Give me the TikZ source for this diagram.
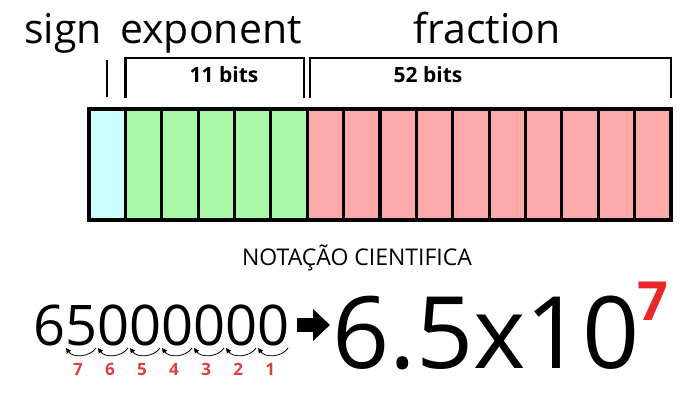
\documentclass[tikz,border=0pt]{standalone}
\usepackage{fontspec}
\setmainfont{Open Sans}
\usetikzlibrary{arrows.meta, positioning}
\definecolor{signcol}{RGB}{204,255,255}
\definecolor{expcol}{RGB}{168,248,168}
\definecolor{fraccol}{RGB}{255,170,170}
\definecolor{placered}{RGB}{222,62,62}
\definecolor{powred}{RGB}{232,40,40}

\begin{document}
\begin{tikzpicture}[x=1pt, y=1pt,
		cell/.style={draw=black, line width=3.2pt, minimum width=36.375pt, minimum height=111pt, inner sep=0pt, outer sep=0pt},
		bracket/.style={line width=2.4pt, line join=miter},
		field/.style={anchor=base, font=\fontsize{41}{41}\selectfont},
		bits/.style={anchor=base, font=\bfseries\fontsize{21}{21}\selectfont},
		digit/.style={inner sep=0pt, outer sep=0pt, anchor=base west, font=\fontsize{56}{56}\selectfont},
		place/.style={anchor=base, text=placered, font=\bfseries\fontsize{17}{17}\selectfont},
		placearc/.style={line width=0.8pt, -{Triangle[length=5pt, width=5pt]}}]
	\useasboundingbox (0,0) rectangle (700,-402);

	%bit cells
	\node[cell, fill=signcol] (c1) at (107.19,-164.5) {};
	\foreach \i in {2,...,6}
		\node[cell, fill=expcol] (c\i) at (89+36.375*\i-18.19,-164.5) {};
	\foreach \i in {7,...,16}
		\node[cell, fill=fraccol] (c\i) at (89+36.375*\i-18.19,-164.5) {};

	%brackets
	\draw[bracket] ([yshift=12pt]c1.north) -- ([yshift=49pt]c1.north);
	\draw[bracket] ([yshift=11pt]c2.north west) |- ([xshift=-3pt, yshift=51pt]c6.north east) -- ([xshift=-3pt, yshift=11pt]c6.north east);
	\draw[bracket] ([xshift=3pt, yshift=11pt]c7.north west) |- ([yshift=51pt]c16.north east) -- ([yshift=11pt]c16.north east);

	%labels
	\node[field] (sign) at (63,-43) {sign};
	\node[field] (exponent) at (211,-43) {exponent};
	\node[field] (fraction) at (487,-43) {fraction};
	\node[bits] (expbits) at (224,-82) {11 bits};
	\node[bits] (fracbits) at (428,-82) {52 bits};

	\node[anchor=base, font=\fontsize{23}{23}\selectfont] (title) at (357,-265) {NOTAÇÃO CIENTIFICA};

	%number and its decimal places
	\node[digit] (d1) at (33,-345) {6};
	\foreach \d [count=\i from 2] in {5,0,0,0,0,0,0}{
		\pgfmathtruncatemacro\j{\i-1}
		\node[digit, base right=0pt of d\j] (d\i) {\d};
	}
	\foreach \i in {2,...,8}{
		\pgfmathtruncatemacro\n{9-\i}
		\draw[placearc] ([xshift=-1pt, yshift=-3pt]d\i.base east) to[bend left=55] ([xshift=1pt, yshift=-3pt]d\i.base west);
		\node[place] (p\i) at ([xshift=-3pt, yshift=-30pt]d\i.base) {\n};
	}

	%scientific form
	\node[anchor=base west, inner sep=0pt, font=\fontsize{100}{100}\selectfont] (sci) at (332,-368) {6.5x10};
	\node[anchor=base west, inner sep=0pt, text=powred, font=\bfseries\fontsize{54}{54}\selectfont] (pow) at ([xshift=-3pt, yshift=48pt]sci.base east) {7};
	\draw[line width=14pt, -{Triangle[width=31pt, length=17pt]}, shorten <=8pt, shorten >=2pt] (d8.east) -- (d8.east -| sci.west);
\end{tikzpicture}
\end{document}
